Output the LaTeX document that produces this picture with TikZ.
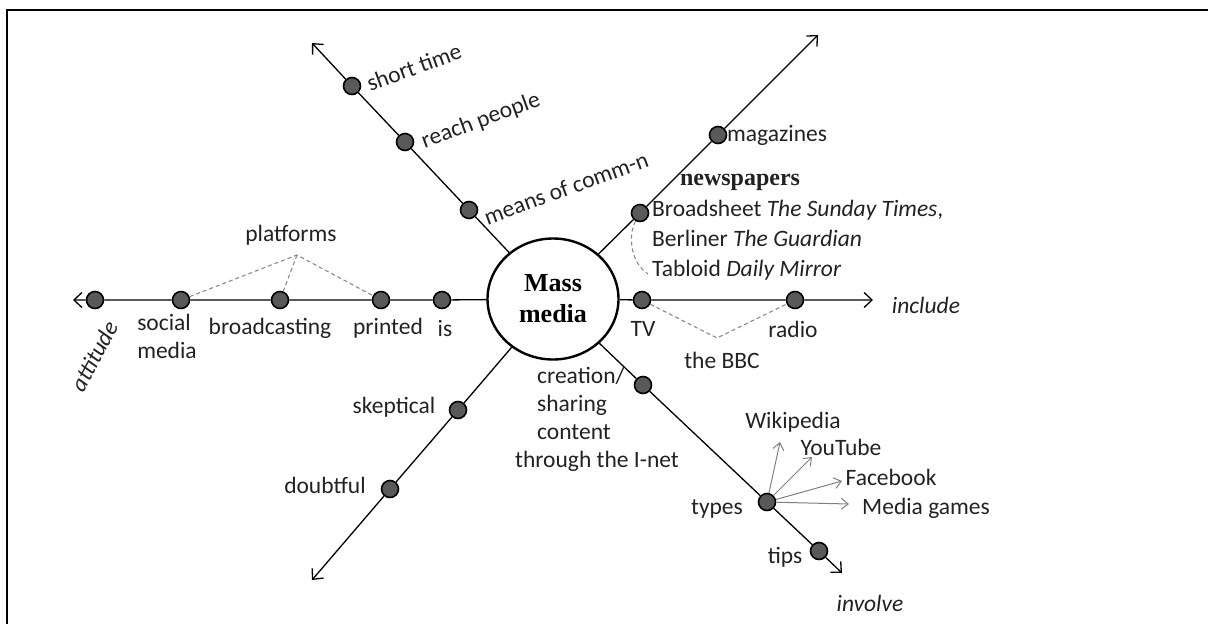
\documentclass[tikz,border=0pt]{standalone}
\usepackage{fontspec}
\setmainfont{Carlito}
\newfontfamily\hubfont{Liberation Serif}
\usetikzlibrary{calc,positioning,shapes.geometric,arrows.meta}
\definecolor{MMDot}{HTML}{595959}
\definecolor{MMText}{HTML}{222222}
\definecolor{MMDash}{HTML}{8A8A8A}

\begin{document}
\begin{tikzpicture}[x=1pt,y=-1pt,font=\fontsize{23.5pt}{28pt}\selectfont,
        dot/.style={circle,draw=black,fill=MMDot,line width=1.6pt,minimum size=17pt,inner sep=0pt},
        hub/.style={ellipse,draw=black,line width=2.4pt,minimum width=131pt,minimum height=121pt,inner sep=0pt,align=center,font=\fontsize{26pt}{31pt}\selectfont\hubfont\bfseries},
        ray/.style={-{Straight Barb[length=8pt,width=15pt]},line width=1.3pt},
        dsh/.style={dash pattern=on 4pt off 3pt,line width=1.1pt,color=MMDash},
        sub/.style={-{Straight Barb[length=7pt,width=11pt]},line width=1pt,color=gray},
        lbl/.style={inner sep=0pt,text=MMText}]
        \useasboundingbox (0,0) rectangle (1208,624);
        \draw[line width=2.4pt] (7,624) -- (7,10) -- (1208,10);
        % hub and the ends of the six rays
        \node[hub] (mm) at (553,299) {Mass\\media};
        \coordinate (tl) at (312,43); \coordinate (tr) at (818,35); \coordinate (rt) at (873,300);
        \coordinate (lt) at (73,300); \coordinate (bl) at (312,580); \coordinate (br) at (842,573);
        % dots
        \node[dot] (shortt) at (352,86) {}; \node[dot] (reach) at (405,142) {}; \node[dot] (means) at (469,210) {};
        \node[dot] (mag) at (718,135) {}; \node[dot] (news) at (640,213) {};
        \node[dot] (tv) at (642,300) {}; \node[dot] (radio) at (795,300) {};
        \node[dot] (att) at (95,300) {}; \node[dot] (social) at (181,300) {}; \node[dot] (broad) at (280,300) {};
        \node[dot] (printed) at (381,300) {}; \node[dot] (is) at (442,300) {};
        \node[dot] (skep) at (458,410) {}; \node[dot] (doubt) at (390,489) {};
        \node[dot] (creat) at (643,385) {}; \node[dot] (types) at (767,502) {}; \node[dot] (tips) at (819,551) {};
        % rays
        \draw[ray] (mm) -- (means) -- (reach) -- (shortt) -- (tl);
        \draw[ray] (mm) -- (news) -- (mag) -- (tr);
        \draw[ray] (mm) -- (tv) -- (radio) -- (rt);
        \draw[ray] (mm) -- (is) -- (printed) -- (broad) -- (social) -- (att) -- (lt);
        \draw[ray] (mm) -- (skep) -- (doubt) -- (bl);
        \draw[ray] (mm) -- (creat) -- (types) -- (tips) -- (br);
        % dashed groupings
        \coordinate (plat) at (297,255); \coordinate (bbc) at (717,338); \coordinate (tab) at (648,274);
        \draw[dsh] (social) -- (plat) -- (printed); \draw[dsh] (plat) -- (broad);
        \draw[dsh] (tv) -- (bbc) -- (radio);
        \draw[dsh] (news) .. controls (628,235) and (630,262) .. (tab);
        % types
        \coordinate (wiki) at (780,442); \coordinate (yt) at (812,457); \coordinate (fb) at (842,481); \coordinate (mg) at (849,504);
        \draw[sub] (types) -- (wiki); \draw[sub] (types) -- (yt); \draw[sub] (types) -- (fb); \draw[sub] (types) -- (mg);
        % labels
        \node[lbl,rotate=20] (lshort) at (414,67) {short time};
        \node[lbl,rotate=20] (lreach) at (481,121) {reach people};
        \node[lbl,rotate=20] (lmeans) at (566,188) {means of comm-n};
        \node[lbl,anchor=west] (lmag) at (727,135) {magazines};
        \node[lbl,font=\fontsize{24pt}{28pt}\selectfont\hubfont\bfseries] (lnews) at (740,182) {newspapers};
        \node[lbl,anchor=west,align=left,font=\fontsize{23.5pt}{30pt}\selectfont] (lpress) at (652,240)
          {Broadsheet \textit{The Sunday Times},\\Berliner \textit{The Guardian}\\Tabloid \textit{Daily Mirror}};
        \node[lbl] (ltv) at (643,329) {TV}; \node[lbl] (lradio) at (793,329) {radio}; \node[lbl] (lbbc) at (722,360) {the BBC};
        \node[lbl,font=\fontsize{23.5pt}{28pt}\selectfont\itshape] (linc) at (926,305) {include};
        \node[lbl] (lplat) at (291,235) {platforms};
        \node[lbl,align=left] (lsocial) at (167,336) {social\\media};
        \node[lbl] (lbroad) at (270,328) {broadcasting}; \node[lbl] (lprinted) at (388,328) {printed}; \node[lbl] (lis) at (445,328) {is};
        \node[lbl,rotate=62,font=\fontsize{23.5pt}{28pt}\selectfont\itshape] (latt) at (94,356) {attitude};
        \node[lbl] (lskep) at (394,407) {skeptical}; \node[lbl] (ldoubt) at (325,485) {doubtful};
        \node[lbl,anchor=west,align=left] (lcreat) at (537,419) {creation/\\sharing\\content\\\hspace*{-22pt}through the I-net};
        \node[lbl] (ltypes) at (717,509) {types}; \node[lbl] (ltips) at (785,557) {tips};
        \node[lbl,font=\fontsize{23.5pt}{28pt}\selectfont\itshape] (linv) at (870,603) {involve};
        \node[lbl] (lwiki) at (793,422) {Wikipedia}; \node[lbl] (lyt) at (841,447) {YouTube};
        \node[lbl] (lfb) at (891,477) {Facebook}; \node[lbl,anchor=west] (lmg) at (862,508) {Media games};
      \end{tikzpicture}
\end{document}
